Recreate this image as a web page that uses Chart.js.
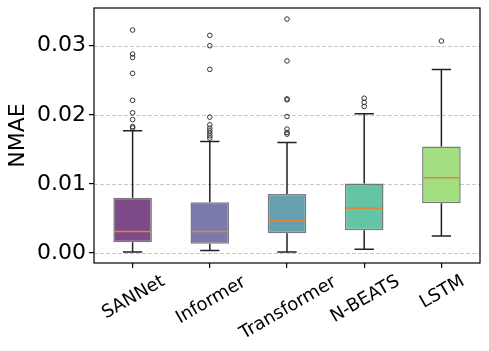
<!DOCTYPE html>
<html>
<head>
<meta charset="utf-8">
<script src="https://cdn.jsdelivr.net/npm/chart.js@4"></script>
<style>
  html, body { margin: 0; padding: 0; background: #fff; }
  #wrap { width: 489px; height: 351px; position: relative; }
</style>
</head>
<body>
<div id="wrap"><canvas id="nmae"></canvas></div>
<script>
// datos
var models = ['SANNet', 'Informer', 'Transformer', 'N-BEATS', 'LSTM'];
var whiskerLow = [0.00015, 0.00035, 0.00015, 0.00055, 0.00245];
var q1 = [0.00155, 0.00135, 0.00285, 0.0033, 0.0072];
var median = [0.0031, 0.0031, 0.0047, 0.0065, 0.0109];
var q3 = [0.0080, 0.00735, 0.00855, 0.01005, 0.0154];
var whiskerHigh = [0.01768, 0.01613, 0.0160, 0.02015, 0.02655];
var outliersSANNet = [0.0181, 0.0183, 0.0193, 0.0203, 0.0221, 0.0260, 0.0283, 0.0288, 0.03227];
var outliersInformer = [0.01662, 0.01696, 0.01734, 0.01768, 0.01807, 0.01855, 0.01967, 0.02657, 0.0300, 0.0315];
var outliersTransformer = [0.0172, 0.01744, 0.01793, 0.01976, 0.02217, 0.0223, 0.0278, 0.03386];
var outliersNBEATS = [0.0212, 0.0218, 0.0224];
var outliersLSTM = [0.03068];
var yTicks = [0, 0.01, 0.02, 0.03];
var boxColors = ['#7e4a88', '#7a7aac', '#64a0b0', '#64c4a6', '#a3df80'];

var outlierPoints = [];
[outliersSANNet, outliersInformer, outliersTransformer, outliersNBEATS, outliersLSTM].forEach(function (arr, i) {
    arr.forEach(function (v) { outlierPoints.push({ x: models[i], y: v }); });
});

var FONT = "'DejaVu Sans', sans-serif";

// bigotes, medianas, rejilla, marco y etiquetas del eje x
var boxExtras = {
    id: 'boxExtras',
    beforeDatasetsDraw: function (chart) {
        var ctx = chart.ctx, a = chart.chartArea, y = chart.scales.y;
        ctx.save();
        ctx.strokeStyle = '#c8c8c8';
        ctx.lineWidth = 1;
        ctx.setLineDash([4, 2]);
        yTicks.forEach(function (t) {
            var py = Math.round(y.getPixelForValue(t)) + 0.5;
            ctx.beginPath();
            ctx.moveTo(a.left, py);
            ctx.lineTo(a.right, py);
            ctx.stroke();
        });
        ctx.restore();
    },
    afterDatasetsDraw: function (chart) {
        var ctx = chart.ctx, x = chart.scales.x, y = chart.scales.y;
        var step = x.getPixelForValue(1) - x.getPixelForValue(0);
        var capHalf = step * 0.125, boxHalf = step * 0.25;
        ctx.save();
        models.forEach(function (m, i) {
            var cx = x.getPixelForValue(i);
            ctx.strokeStyle = '#222222';
            ctx.lineWidth = 1.5;
            ctx.beginPath();
            ctx.moveTo(cx, y.getPixelForValue(q1[i]));
            ctx.lineTo(cx, y.getPixelForValue(whiskerLow[i]));
            ctx.moveTo(cx, y.getPixelForValue(q3[i]));
            ctx.lineTo(cx, y.getPixelForValue(whiskerHigh[i]));
            ctx.moveTo(cx - capHalf, y.getPixelForValue(whiskerLow[i]));
            ctx.lineTo(cx + capHalf, y.getPixelForValue(whiskerLow[i]));
            ctx.moveTo(cx - capHalf, y.getPixelForValue(whiskerHigh[i]));
            ctx.lineTo(cx + capHalf, y.getPixelForValue(whiskerHigh[i]));
            ctx.stroke();
            ctx.strokeStyle = '#e0873a';
            ctx.lineWidth = 1.6;
            ctx.beginPath();
            ctx.moveTo(cx - boxHalf + 1, y.getPixelForValue(median[i]));
            ctx.lineTo(cx + boxHalf - 1, y.getPixelForValue(median[i]));
            ctx.stroke();
        });
        ctx.restore();
    },
    afterDraw: function (chart) {
        var ctx = chart.ctx, a = chart.chartArea, x = chart.scales.x;
        ctx.save();
        ctx.strokeStyle = '#000';
        ctx.lineWidth = 1.2;
        ctx.strokeRect(a.left, a.top, a.right - a.left, a.bottom - a.top);
        ctx.fillStyle = '#000';
        ctx.font = '18px ' + FONT;
        ctx.textAlign = 'left';
        ctx.textBaseline = 'alphabetic';
        var ang = Math.PI / 6;
        models.forEach(function (m, i) {
            var mt = ctx.measureText(m);
            var w = mt.width;
            var asc = mt.actualBoundingBoxAscent, desc = mt.actualBoundingBoxDescent;
            var h = asc + desc;
            var H = w * Math.sin(ang) + h * Math.cos(ang);
            ctx.save();
            ctx.translate(x.getPixelForValue(i), a.bottom + 10 + H / 2);
            ctx.rotate(-ang);
            ctx.fillText(m, -w / 2, (asc - desc) / 2);
            ctx.restore();
        });
        ctx.restore();
    }
};

const ctxN = document.getElementById('nmae');
const chartN = new Chart(ctxN, {
    type: 'bar',
    data: {
        labels: models,
        datasets: [{
            label: 'IQR',
            data: models.map(function (m, i) { return [q1[i], q3[i]]; }),
            backgroundColor: boxColors,
            borderColor: 'rgba(90, 90, 90, 0.8)',
            borderWidth: 1.5,
            borderSkipped: false,
            barPercentage: 0.5,
            categoryPercentage: 1.0
        }, {
            type: 'line',
            label: 'outliers',
            data: outlierPoints,
            showLine: false,
            pointRadius: 2.3,
            pointBorderWidth: 1,
            pointBorderColor: '#333333',
            pointBackgroundColor: 'rgba(0,0,0,0)'
        }]
    },
    options: {
        responsive: true,
        maintainAspectRatio: false,
        animation: false,
        layout: { padding: { top: 8, right: 9, left: 0, bottom: 0 } },
        plugins: {
            legend: { display: false },
            tooltip: { enabled: false }
        },
        scales: {
            x: {
                offset: true,
                grid: { display: true, drawOnChartArea: false, offset: false, color: '#000', tickLength: 5, lineWidth: 1.2 },
                border: { display: false },
                ticks: { display: false },
                afterFit: function (s) { s.height = 88; s.paddingLeft = 0; s.paddingRight = 0; }
            },
            y: {
                min: -0.00145,
                max: 0.03546,
                afterBuildTicks: function (s) { s.ticks = yTicks.map(function (v) { return { value: v }; }); },
                grid: { display: true, drawOnChartArea: false, color: '#000', tickLength: 5, lineWidth: 1.2 },
                border: { display: false },
                ticks: {
                    color: '#000',
                    padding: 3,
                    font: { family: FONT, size: 22 },
                    callback: function (v) { return Number(v).toFixed(2); }
                },
                title: {
                    display: true,
                    text: 'NMAE',
                    color: '#000',
                    padding: { top: 5, bottom: 0 },
                    font: { family: FONT, size: 22 }
                },
                afterFit: function (s) { s.width = 94; s.paddingTop = 0; s.paddingBottom = 0; }
            }
        }
    },
    plugins: [boxExtras]
});
</script>
</body>
</html>
